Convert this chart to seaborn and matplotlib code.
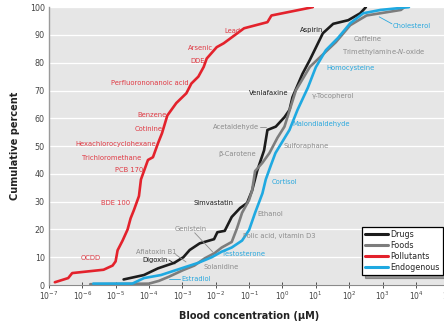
import numpy as np
import pandas as pd
import matplotlib
matplotlib.use("Agg")
import matplotlib.pyplot as plt
import seaborn as sns

# Cumulative distributions of blood concentrations (log10 of µM) by source
drugs_log_conc = [-4.76, -4.15, -3.73, -3.24, -2.97, -2.78, -2.48, -2.05, -1.95, -1.73,
                  -1.52, -1.27, -1.06, -0.91, -0.76, -0.55, -0.45, -0.2, 0.06, 0.21,
                  0.3, 0.6, 0.82, 1.21, 1.52, 1.97, 2.33, 2.5]
drugs_pct = [2, 3.6, 6, 8, 10, 12.6, 15, 16.5, 19, 19.5,
             24.5, 27.7, 29.5, 34, 41, 48.5, 55.8, 57, 60.4, 63,
             67.6, 76, 81, 90.6, 94, 95.3, 97.8, 100]

foods_log_conc = [-5.76, -4.0, -3.7, -3.4, -2.97, -2.64, -2.33, -2.03, -1.82, -1.52,
                  -1.36, -1.21, -1.0, -0.91, -0.82, -0.6, -0.39, -0.15, 0.06, 0.4,
                  0.82, 1.6, 2.03, 2.52, 3.55, 3.65]
foods_pct = [0.3, 0.5, 1.5, 3, 5.4, 7, 9.6, 11.5, 13.5, 15.5,
             20.5, 26, 30.6, 34, 41, 44, 47.5, 53, 57, 70,
             78.5, 87.4, 93.5, 97, 99, 100]

pollutants_log_conc = [-6.82, -6.42, -6.3, -5.36, -5.09, -5.0, -4.94, -4.79, -4.64, -4.55,
                       -4.45, -4.3, -4.24, -4.15, -4.03, -3.88, -3.73, -3.61, -3.55, -3.45,
                       -3.18, -2.88, -2.73, -2.52, -2.36, -2.27, -1.97, -1.76, -1.15, -0.45,
                       -0.33, 0.91]
pollutants_pct = [1, 2.5, 4.3, 5.5, 7, 8.5, 12.5, 16, 20, 24,
                  27, 32, 38, 41, 45, 46, 51, 54.6, 57, 61,
                  65.5, 69, 72.5, 75, 78.5, 81.5, 85.6, 87, 92.4, 94.6,
                  97, 100]

endogenous_log_conc = [-5.67, -4.5, -4.15, -3.64, -3.03, -2.52, -2.12, -1.82, -1.52, -1.21,
                       -1.0, -0.82, -0.6, -0.5, -0.35, -0.21, 0.21, 0.45, 0.76, 1.0,
                       1.3, 1.67, 2.03, 2.42, 2.94, 3.79]
endogenous_pct = [0.5, 0.5, 2.5, 3.6, 6, 8, 10, 12, 13.5, 16,
                  19.8, 26, 33, 38, 43, 47.5, 55.8, 63, 71, 78.4,
                  84.5, 89, 94.2, 97.8, 99, 100]

groups = ["Drugs", "Foods", "Pollutants", "Endogenous"]
colors = {"Drugs": "#1c1c1c", "Foods": "#7d7d7d",
          "Pollutants": "#e3222c", "Endogenous": "#1fa9e1"}
text_colors = {"Drugs": "#1c1c1c", "Foods": "#8c8c8c",
               "Pollutants": "#e03a44", "Endogenous": "#2aa8de"}

x_ticks = [1e-7, 1e-6, 1e-5, 1e-4, 1e-3, 1e-2, 1e-1, 1e0, 1e1, 1e2, 1e3, 1e4, 1e5]
y_ticks = [0, 10, 20, 30, 40, 50, 60, 70, 80, 90, 100]

# Compound labels: (text, log10 conc, percent, group, alignment)
labels = [
    ("Lead", -1.27, 91.4, "Pollutants", "right"),
    ("Arsenic", -2.09, 85.3, "Pollutants", "right"),
    ("DDE", -2.33, 80.6, "Pollutants", "right"),
    ("Perfluorononanoic acid", -2.82, 72.7, "Pollutants", "right"),
    ("Benzene", -3.48, 61.2, "Pollutants", "right"),
    ("Cotinine", -3.58, 56.1, "Pollutants", "right"),
    ("Hexachlorocyclohexane", -3.79, 50.7, "Pollutants", "right"),
    ("Trichloromethane", -4.24, 45.6, "Pollutants", "right"),
    ("PCB 170", -4.18, 41.4, "Pollutants", "right"),
    ("BDE 100", -4.55, 29.5, "Pollutants", "right"),
    ("OCDD", -5.45, 9.7, "Pollutants", "right"),
    ("Aspirin", 1.21, 91.7, "Drugs", "right"),
    ("Venlafaxine", 0.18, 69.1, "Drugs", "right"),
    ("Simvastatin", -1.48, 29.5, "Drugs", "right"),
    ("Digoxin", -3.45, 9.0, "Drugs", "right"),
    ("Caffeine", 2.12, 88.5, "Foods", "left"),
    ("Trimethylamine-$\\mathit{N}$-oxide", 1.79, 83.8, "Foods", "left"),
    ("\u03b3-Tocopherol", 0.88, 68.0, "Foods", "left"),
    ("Acetaldehyde", -0.70, 56.8, "Foods", "right"),
    ("\u03b2-Carotene", -0.78, 47.1, "Foods", "right"),
    ("Sulforaphane", 0.03, 50.0, "Foods", "left"),
    ("Ethanol", -0.76, 25.5, "Foods", "left"),
    ("Folic acid, vitamin D3", -1.18, 17.6, "Foods", "left"),
    ("Solanidine", -2.36, 6.5, "Foods", "left"),
    ("Genistein", -3.24, 20.0, "Foods", "left"),
    ("Aflatoxin B1", -4.39, 12.0, "Foods", "left"),
    ("Cholesterol", 3.30, 93.2, "Endogenous", "left"),
    ("Homocysteine", 1.33, 78.1, "Endogenous", "left"),
    ("Malondialdehyde", 0.30, 57.9, "Endogenous", "left"),
    ("Cortisol", -0.33, 37.0, "Endogenous", "left"),
    ("Testosterone", -1.82, 11.2, "Endogenous", "left"),
    ("Estradiol", -3.03, 2.1, "Endogenous", "left"),
]

# Short leader lines from labels to curves: (log10 x0, y0, log10 x1, y1, group)
leaders = [
    (-0.66, 56.8, -0.48, 56.8, "Foods"),
    (-2.63, 18.8, -2.09, 11.9, "Foods"),
    (-3.20, 11.0, -2.89, 8.3, "Foods"),
    (-3.40, 9.0, -3.22, 7.6, "Drugs"),
    (2.90, 96.5, 3.28, 94.0, "Endogenous"),
    (-3.40, 2.2, -3.06, 2.2, "Endogenous"),
]

series = {
    "Drugs": (drugs_log_conc, drugs_pct),
    "Foods": (foods_log_conc, foods_pct),
    "Pollutants": (pollutants_log_conc, pollutants_pct),
    "Endogenous": (endogenous_log_conc, endogenous_pct),
}
frames = []
for g in groups:
    lc, pc = series[g]
    frames.append(pd.DataFrame({"conc": np.power(10.0, lc), "pct": pc, "group": g}))
df = pd.concat(frames, ignore_index=True)

sns.set_style("darkgrid", {"axes.facecolor": "#e6e6e6", "grid.color": "white",
                           "axes.edgecolor": "#9a9a9a"})
plt.rcParams["font.family"] = ["Liberation Sans Narrow", "DejaVu Sans"]
plt.rcParams["mathtext.fontset"] = "custom"
plt.rcParams["mathtext.rm"] = "Liberation Sans Narrow"
plt.rcParams["mathtext.it"] = "Liberation Sans Narrow:italic"
plt.rcParams["mathtext.bf"] = "Liberation Sans Narrow:bold"

fig = plt.figure(figsize=(4.44, 3.25), dpi=100)
ax = fig.add_axes([0.110, 0.123, 0.902, 0.855])

sns.lineplot(data=df, x="conc", y="pct", hue="group", hue_order=groups,
             palette=colors, sort=False, estimator=None, linewidth=1.9,
             ax=ax, legend=False)

ax.set_xscale("log")
ax.set_xlim(1e-7, 1e5)
ax.set_ylim(0, 100)
ax.set_xticks(x_ticks)
ax.set_yticks(y_ticks)
ax.xaxis.set_minor_locator(matplotlib.ticker.LogLocator(base=10, subs=np.arange(2, 10)))
ax.xaxis.set_minor_formatter(matplotlib.ticker.NullFormatter())
ax.grid(True, axis="y", color="white", linewidth=0.9)
ax.grid(False, axis="x")
ax.grid(False, which="minor")
ax.tick_params(axis="x", which="major", direction="inout", length=4, width=0.6,
               color="#333333", labelsize=5.5, labelcolor="#444444", pad=1.5, bottom=True)
ax.tick_params(axis="x", which="minor", direction="inout", length=2.5, width=0.5,
               color="#333333", bottom=True)
ax.tick_params(axis="y", length=0, labelsize=5.8, labelcolor="#444444", pad=3)
for side in ["top", "right"]:
    ax.spines[side].set_visible(False)
ax.spines["left"].set_visible(True)
ax.spines["left"].set_color("#9a9a9a")
ax.spines["left"].set_linewidth(1.0)
ax.spines["bottom"].set_visible(True)
ax.spines["bottom"].set_color("#8a8a8a")
ax.spines["bottom"].set_linewidth(0.8)

ax.set_xlabel("Blood concentration (\u03bcM)", fontsize=7, fontweight="bold",
              color="#222222", labelpad=6)
ax.set_ylabel("Cumulative percent", fontsize=7, fontweight="bold",
              color="#222222", labelpad=7)

for text, lx, py, g, ha in labels:
    ax.text(10 ** lx, py, text, color=text_colors[g], fontsize=4.9,
            ha=ha, va="center")

for x0, y0, x1, y1, g in leaders:
    ax.plot([10 ** x0, 10 ** x1], [y0, y1], color=text_colors[g], linewidth=0.6)

handles = [matplotlib.lines.Line2D([], [], color=colors[g], linewidth=2.2) for g in groups]
leg = ax.legend(handles, groups, loc="lower right", bbox_to_anchor=(0.985, 0.035),
                fontsize=5.8, frameon=True, fancybox=False, shadow=True,
                handlelength=2.9, handletextpad=0.3, labelspacing=0.25,
                borderpad=0.4, borderaxespad=0)
leg.get_frame().set_edgecolor("black")
leg.get_frame().set_linewidth(0.9)
leg.get_frame().set_facecolor("white")
leg.get_frame().set_alpha(1)

fig.savefig("out.png", dpi=100)
